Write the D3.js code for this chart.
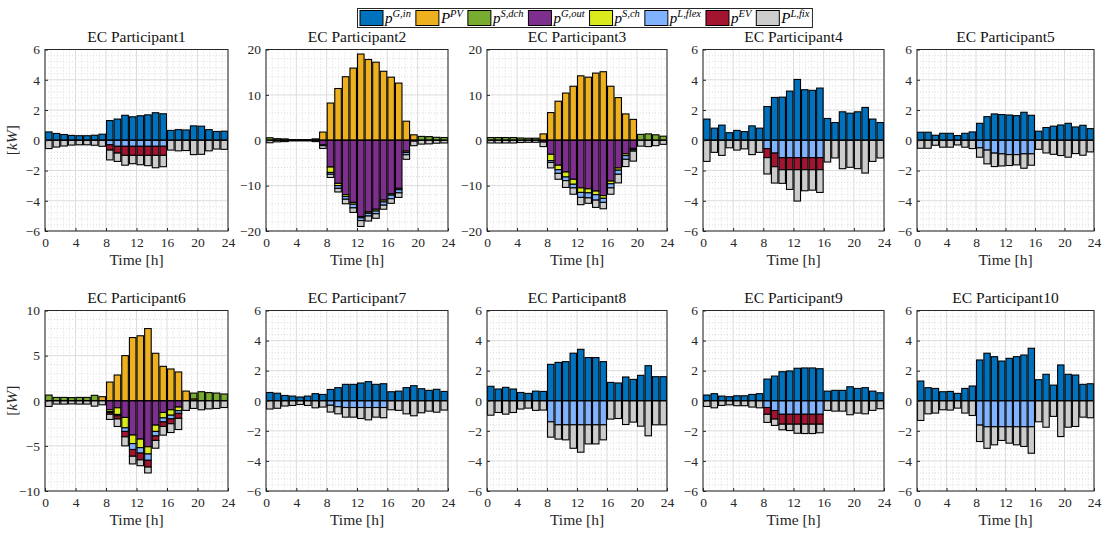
<!DOCTYPE html>
<html>
<head>
<meta charset="utf-8">
<script src="https://cdn.jsdelivr.net/npm/d3@7"></script>
<style>
  body { margin: 0; background: #fff; }
</style>
</head>
<body>
<svg id="chart" width="1107" height="536" font-family="Liberation Serif, Times New Roman, serif"></svg>
<script>

const hours = d3.range(24)
const seriesKeys = ["gin", "pv", "sdch", "gout", "sch", "lflex", "ev", "lfix"]
const seriesSign = [1, 1, 1, -1, -1, -1, -1, -1]
const seriesColors = ["#0072BD", "#EDB120", "#77AC30", "#7E2F8E", "#DBEA1C", "#80B3FF", "#A2142F", "#CCCCCC"]
const legendMain = ["p", "P", "p", "p", "p", "p", "p", "P"]
const legendSup = ["G,in", "PV", "S,dch", "G,out", "S,ch", "L,flex", "EV", "L,fix"]

const titles = ["EC Participant1", "EC Participant2", "EC Participant3", "EC Participant4", "EC Participant5",
                "EC Participant6", "EC Participant7", "EC Participant8", "EC Participant9", "EC Participant10"]
const xTicks = [0, 4, 8, 12, 16, 20, 24]
const yTicksSmall = [-6, -4, -2, 0, 2, 4, 6]
const yTicksBig = [-20, -10, 0, 10, 20]
const yTicksMid = [-10, -5, 0, 5, 10]

// values in kW, consumption series given as magnitudes (drawn below zero)
const p1 = {
  gin:   [0.55,0.45,0.38,0.32,0.3,0.3,0.33,0.4,1.3,1.4,1.65,1.55,1.62,1.68,1.82,1.75,0.65,0.7,0.68,0.95,0.93,0.7,0.58,0.6],
  lflex: [0,0,0,0,0,0,0,0,0.3,0.4,0.4,0.4,0.4,0.4,0.4,0.4,0,0,0,0,0,0,0,0],
  ev:    [0,0,0,0,0,0,0,0,0.35,0.45,0.6,0.6,0.6,0.6,0.6,0.6,0,0,0,0,0,0,0,0],
  lfix:  [0.55,0.45,0.38,0.32,0.3,0.3,0.33,0.4,0.65,0.55,0.65,0.55,0.62,0.68,0.82,0.75,0.65,0.7,0.68,0.95,0.93,0.7,0.58,0.6]
}
const p2 = {
  gin:   [0,0,0,0,0,0,0.3,0,0,0,0,0,0,0,0,0,0,0,0,0,0,0,0,0],
  pv:    [0,0,0,0,0,0,0,1.8,8.2,11.4,14.0,15.9,19.0,17.8,17.2,15.2,13.9,12.6,4.2,1.2,0,0,0,0],
  sdch:  [0.55,0.35,0.3,0.15,0.15,0.15,0,0,0,0,0,0,0,0,0,0,0,0,0,0,0.85,0.8,0.65,0.6],
  gout:  [0,0,0,0,0,0,0,1.0,5.9,9.5,12.0,13.7,16.8,15.8,15.2,13.2,11.8,10.6,2.4,0.2,0,0,0,0],
  sch:   [0,0,0,0,0,0,0,0,1.2,0.5,0.4,0.4,0.3,0.3,0.4,0.4,0.3,0.3,0.3,0,0,0,0,0],
  lflex: [0,0,0,0,0,0,0,0.2,0.4,0.6,0.6,0.8,0.6,0.6,0.6,0.7,0.8,0.7,0.5,0,0,0,0,0],
  lfix:  [0.55,0.35,0.3,0.15,0.15,0.15,0.3,0.6,0.7,0.8,1.0,1.0,1.3,1.1,1.0,0.9,1.0,1.0,1.0,1.0,0.85,0.8,0.65,0.6]
}
const p3 = {
  pv:    [0,0,0,0,0,0,0,1.4,6.1,8.6,10.4,11.9,14.2,13.9,14.8,15.1,11.9,9.4,5.8,4.6,0,0,0,0],
  sdch:  [0.6,0.6,0.6,0.6,0.5,0.45,0.45,0,0,0,0,0,0,0,0,0,0,0,0,0,1.3,1.4,1.2,0.9],
  gout:  [0,0,0,0,0,0,0,0.4,3.1,5.5,7.0,8.6,10.5,10.7,11.2,12.2,9.0,6.1,3.0,1.8,0,0,0,0],
  sch:   [0,0,0,0,0,0,0,0,1.4,1.0,1.1,1.1,1.0,0.9,0.8,0.6,0.6,0.5,0.4,0.3,0,0,0,0],
  lflex: [0,0,0,0,0,0,0,0,0.4,0.8,0.8,0.8,1.1,1.1,1.2,0.9,0.9,0.9,0.8,0.3,0,0,0,0],
  lfix:  [0.6,0.6,0.6,0.6,0.5,0.45,0.45,1.0,1.2,1.3,1.5,1.4,1.6,1.2,1.6,1.4,1.4,1.9,1.6,2.2,1.3,1.4,1.2,0.9]
}
const p4 = {
  gin:   [1.4,0.8,1.0,0.5,0.65,0.57,0.95,0.8,2.23,2.83,2.85,3.25,4.02,3.34,3.3,3.45,1.44,1.17,1.88,1.79,1.88,2.17,1.4,1.17],
  lflex: [0,0,0,0,0,0,0,0,0.55,0.85,1.15,1.15,1.15,1.15,1.15,1.15,0,0,0,0,0,0,0,0],
  ev:    [0,0,0,0,0,0,0,0,0.6,0.9,0.8,0.8,0.8,0.8,0.8,0.8,0,0,0,0,0,0,0,0],
  lfix:  [1.4,0.8,1.0,0.5,0.65,0.57,0.95,0.8,1.08,1.08,0.9,1.3,2.07,1.39,1.35,1.5,1.44,1.17,1.88,1.79,1.88,2.17,1.4,1.17]
}
const p5 = {
  gin:   [0.53,0.53,0.33,0.46,0.46,0.31,0.46,0.55,1.12,1.56,1.74,1.7,1.67,1.63,1.85,1.65,0.6,0.84,0.93,1.01,1.12,0.88,0.99,0.77],
  lflex: [0,0,0,0,0,0,0,0,0.5,0.65,0.85,0.9,0.95,0.95,0.9,0.9,0,0,0,0,0,0,0,0],
  lfix:  [0.53,0.53,0.33,0.46,0.46,0.31,0.46,0.55,0.62,0.91,0.89,0.8,0.72,0.68,0.95,0.75,0.6,0.84,0.93,1.01,1.12,0.88,0.99,0.77]
}
const p6 = {
  pv:    [0,0,0,0,0,0,0,0.45,2.07,2.85,5.0,7.0,7.2,8.0,5.26,3.81,3.52,3.19,1.07,0.2,0,0,0,0],
  sdch:  [0.63,0.37,0.37,0.35,0.37,0.37,0.6,0,0,0,0,0,0,0,0,0,0,0,0,0.65,1.0,0.9,0.85,0.75],
  gout:  [0,0,0,0,0,0,0,0,1.0,0.78,1.85,3.8,4.25,5.1,2.7,1.3,1.0,0.7,0,0,0,0,0,0],
  sch:   [0,0,0,0,0,0,0,0,0.2,0.74,1.15,0.95,0.95,0.8,0.7,0.6,0.6,0.4,0,0,0,0,0,0],
  lflex: [0,0,0,0,0,0,0,0,0.1,0.15,0.4,0.65,0.6,0.7,0.5,0.45,0.4,0.3,0,0,0,0,0,0],
  ev:    [0,0,0,0,0,0,0,0,0.2,0.35,0.6,0.75,0.75,0.75,0.5,0.5,0.55,0.55,0,0,0,0,0,0],
  lfix:  [0.63,0.37,0.37,0.35,0.37,0.37,0.6,0.45,0.57,0.83,1.0,0.85,0.65,0.65,0.86,0.96,0.97,1.24,1.07,0.85,1.0,0.9,0.85,0.75]
}
const p7 = {
  gin:   [0.55,0.5,0.35,0.31,0.25,0.31,0.47,0.42,0.75,0.87,1.09,1.09,1.18,1.27,1.09,1.13,0.6,0.64,0.87,1.0,0.8,0.69,0.76,0.62],
  lflex: [0,0,0,0,0,0,0,0,0.3,0.4,0.45,0.45,0.45,0.45,0.45,0.45,0,0,0,0,0,0,0,0],
  lfix:  [0.55,0.5,0.35,0.31,0.25,0.31,0.47,0.42,0.45,0.47,0.64,0.64,0.73,0.82,0.64,0.68,0.6,0.64,0.87,1.0,0.8,0.69,0.76,0.62]
}
const p8 = {
  gin:   [0.96,0.78,0.89,0.78,0.55,0.49,0.64,0.62,2.42,2.55,2.6,3.16,3.42,2.87,2.87,2.6,1.22,1.18,1.58,1.42,1.69,2.33,1.6,1.6],
  lflex: [0,0,0,0,0,0,0,0,1.4,1.6,1.6,1.6,1.6,1.6,1.6,1.6,0,0,0,0,0,0,0,0],
  lfix:  [0.96,0.78,0.89,0.78,0.55,0.49,0.64,0.62,1.02,0.95,1.0,1.56,1.82,1.27,1.27,1.0,1.22,1.18,1.58,1.42,1.69,2.33,1.6,1.6]
}
const p9 = {
  gin:   [0.38,0.47,0.31,0.27,0.33,0.33,0.42,0.47,1.44,1.64,1.93,1.98,2.16,2.18,2.18,2.13,0.64,0.69,0.69,0.93,0.82,0.87,0.64,0.53],
  lflex: [0,0,0,0,0,0,0,0,0.45,0.65,0.9,0.9,0.9,0.9,0.9,0.9,0,0,0,0,0,0,0,0],
  ev:    [0,0,0,0,0,0,0,0,0.45,0.57,0.66,0.66,0.66,0.66,0.66,0.66,0,0,0,0,0,0,0,0],
  lfix:  [0.38,0.47,0.31,0.27,0.33,0.33,0.42,0.47,0.54,0.42,0.37,0.42,0.6,0.62,0.62,0.57,0.64,0.69,0.69,0.93,0.82,0.87,0.64,0.53]
}
const p10 = {
  gin:   [1.31,0.87,0.82,0.6,0.62,0.49,0.82,0.98,2.71,3.16,2.93,2.64,2.82,2.93,3.04,3.49,1.4,1.76,1.04,2.38,1.76,1.71,1.09,1.13],
  lflex: [0,0,0,0,0,0,0,0,1.62,1.73,1.73,1.73,1.73,1.73,1.73,1.73,0,0,0,0,0,0,0,0],
  lfix:  [1.31,0.87,0.82,0.6,0.62,0.49,0.82,0.98,1.09,1.43,1.2,0.91,1.09,1.2,1.31,1.76,1.4,1.76,1.04,2.38,1.76,1.71,1.09,1.13]
}

const participants = [p1, p2, p3, p4, p5, p6, p7, p8, p9, p10]
const yTickSets = [yTicksSmall, yTicksBig, yTicksBig, yTicksSmall, yTicksSmall,
                   yTicksMid, yTicksSmall, yTicksSmall, yTicksSmall, yTicksSmall]

// layout
const colLeft = [45, 266, 487, 703, 917]
const colRight = [228, 448, 667, 884, 1094]
const rowTop = [49.5, 310.5]
const rowBottom = [231, 491]
const barWidth = 0.86
const serif = "Liberation Serif, Times New Roman, serif"

let svg = d3.select("#chart")

svg.append("rect").attr("width", 1107).attr("height", 536).attr("fill", "#fff")

participants.forEach((d, i) => {
  let col = i % 5
  let row = Math.floor(i / 5)
  drawPanel(d, i, colLeft[col], rowTop[row], colRight[col] - colLeft[col], rowBottom[row] - rowTop[row], col == 0)
})

drawLegend()

function drawPanel(d, i, left, top, w, h, showYLabel) {
  let ticks = yTickSets[i]
  let g = svg.append("g").attr("transform", `translate(${left},${top})`)

  let x = d3.scaleLinear().domain([0, 24]).range([0, w])
  let y = d3.scaleLinear().domain([ticks[0], ticks[ticks.length - 1]]).range([h, 0])

  let yStep = ticks[1] - ticks[0]
  let xMinor = d3.range(0, 24.001, 0.8).filter(v => Math.abs(v / 4 - Math.round(v / 4)) > 1e-6)
  let yMinor = d3.range(ticks[0], ticks[ticks.length - 1] + 1e-6, yStep / 5)
    .filter(v => Math.abs(v / yStep - Math.round(v / yStep)) > 1e-6)

  // minor grid, dotted
  g.append("g").selectAll("line").data(xMinor).join("line")
    .attr("x1", v => x(v)).attr("x2", v => x(v)).attr("y1", 0).attr("y2", h)
    .attr("stroke", "#d4d4d4").attr("stroke-width", 0.8).attr("stroke-dasharray", "1,2")
  g.append("g").selectAll("line").data(yMinor).join("line")
    .attr("y1", v => y(v)).attr("y2", v => y(v)).attr("x1", 0).attr("x2", w)
    .attr("stroke", "#d4d4d4").attr("stroke-width", 0.8).attr("stroke-dasharray", "1,2")

  // major grid
  g.append("g").selectAll("line").data(xTicks).join("line")
    .attr("x1", v => x(v)).attr("x2", v => x(v)).attr("y1", 0).attr("y2", h)
    .attr("stroke", "#dcdcdc").attr("stroke-width", 1)
  g.append("g").selectAll("line").data(ticks).join("line")
    .attr("y1", v => y(v)).attr("y2", v => y(v)).attr("x1", 0).attr("x2", w)
    .attr("stroke", "#dcdcdc").attr("stroke-width", 1)

  // stacked bars
  let rects = []
  hours.forEach(hr => {
    let up = 0
    let down = 0
    seriesKeys.forEach((k, s) => {
      let v = d[k] ? d[k][hr] : 0
      if (!v) return
      if (seriesSign[s] > 0) {
        rects.push({ hr: hr, lo: up, hi: up + v, s: s })
        up += v
      } else {
        rects.push({ hr: hr, lo: down - v, hi: down, s: s })
        down -= v
      }
    })
  })

  g.append("g").selectAll("rect").data(rects).join("rect")
    .attr("x", r => x(r.hr + 0.5 - barWidth / 2))
    .attr("width", x(barWidth) - x(0))
    .attr("y", r => y(r.hi))
    .attr("height", r => y(r.lo) - y(r.hi))
    .attr("fill", r => seriesColors[r.s])
    .attr("stroke", "#000")
    .attr("stroke-width", 1.1)

  // bar baseline
  g.append("line")
    .attr("x1", 0).attr("x2", w).attr("y1", y(0)).attr("y2", y(0))
    .attr("stroke", "#000").attr("stroke-width", 1.2)

  // axes
  let xAxis = d3.axisBottom(x).tickValues(xTicks).tickSizeInner(-3).tickSizeOuter(0).tickPadding(6)
  let yAxis = d3.axisLeft(y).tickValues(ticks).tickSizeInner(-3).tickSizeOuter(0).tickPadding(5)

  let gx = g.append("g").attr("transform", `translate(0,${h})`).call(xAxis)
  let gy = g.append("g").call(yAxis)
  for (let a of [gx, gy]) {
    a.attr("font-family", serif).attr("font-size", 13.5)
    a.select(".domain").remove()
    a.selectAll("line").attr("stroke", "#262626")
    a.selectAll("text").attr("fill", "#262626")
  }

  // box
  g.append("rect").attr("width", w).attr("height", h)
    .attr("fill", "none").attr("stroke", "#262626").attr("stroke-width", 1)

  g.append("text")
    .attr("x", w / 2).attr("y", -8)
    .attr("text-anchor", "middle").attr("font-size", 15.5).attr("fill", "#111")
    .attr("font-family", serif).attr("font-weight", "normal")
    .text(titles[i])

  g.append("text")
    .attr("x", w / 2).attr("y", h + 34)
    .attr("text-anchor", "middle").attr("font-size", 15.5).attr("fill", "#262626")
    .attr("font-family", serif).attr("font-weight", "normal")
    .text("Time [h]")

  if (showYLabel) {
    let t = g.append("text")
      .attr("transform", `translate(${-28},${h / 2}) rotate(-90)`)
      .attr("text-anchor", "middle").attr("font-size", 15.5).attr("fill", "#262626")
      .attr("font-family", serif)
    t.append("tspan").text("[")
    t.append("tspan").attr("font-style", "italic").text("kW")
    t.append("tspan").text("]")
  }
}

function drawLegend() {
  let lg = svg.append("g").attr("font-family", serif)
  let box = lg.append("rect")
    .attr("x", 357.5).attr("y", 8.5).attr("height", 19)
    .attr("fill", "#fff").attr("stroke", "#262626").attr("stroke-width", 1)

  let cx = 360
  seriesKeys.forEach((k, s) => {
    lg.append("rect")
      .attr("x", cx).attr("y", 10.5).attr("width", 23).attr("height", 15)
      .attr("fill", seriesColors[s]).attr("stroke", "#000").attr("stroke-width", 1)
    let t = lg.append("text")
      .attr("x", cx + 25).attr("y", 23)
      .attr("font-size", 15).attr("font-style", "italic")
    t.append("tspan").text(legendMain[s])
    t.append("tspan").attr("font-size", 10.5).attr("dy", -6).text(legendSup[s])
    cx += 25 + t.node().getComputedTextLength() + 5
  })
  box.attr("width", cx - 357.5 - 2)
}

</script>
</body>
</html>
